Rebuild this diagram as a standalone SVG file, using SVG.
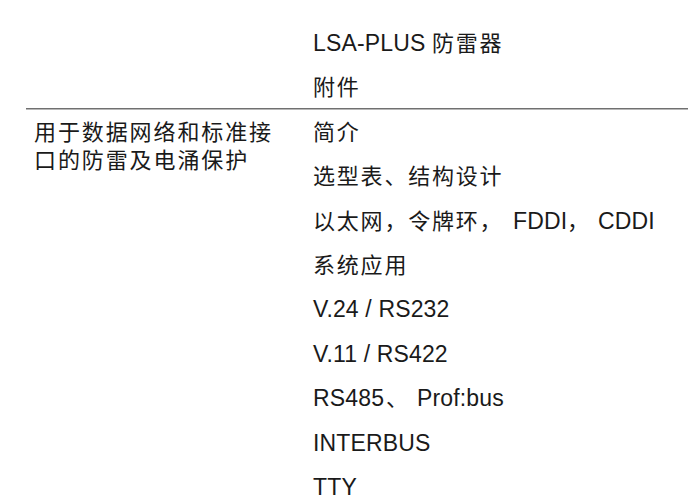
<svg xmlns="http://www.w3.org/2000/svg" width="688" height="504" viewBox="0 0 688 504">
<style>
text{font-family:"Liberation Sans","Noto Sans CJK SC",sans-serif;font-size:22px;fill:#1a1a1a}
.lat{font-size:23px;letter-spacing:0.15px}
.cjk{letter-spacing:1.8px}
.rule{stroke:#707070;stroke-width:1.4}
</style>
<rect width="688" height="504" fill="#ffffff"/>
<g id="separator">
<line class="rule" x1="26" y1="108.7" x2="688" y2="108.7"/>
</g>
<g id="section-title">
<text class="cjk" x="34" y="140" style="letter-spacing:1.9px">用于数据网络和标准接</text>
<text class="cjk" x="34" y="167.5" style="letter-spacing:1.9px">口的防雷及电涌保护</text>
</g>
<g id="row-lsa"><text x="313" y="51"><tspan class="lat">LSA-PLUS</tspan><tspan class="cjk" x="432">防雷器</tspan></text></g>
<g id="row-accessories"><text class="cjk" x="313" y="95.4">附件</text></g>
<g id="row-intro"><text class="cjk" x="313" y="139.8">简介</text></g>
<g id="row-selection"><text class="cjk" x="313" y="184.2">选型表、结构设计</text></g>
<g id="row-ethernet"><text y="228.6"><tspan class="cjk" x="313">以太网，令牌环，</tspan><tspan class="lat" x="513">FDDI</tspan><tspan class="cjk" x="567">，</tspan><tspan class="lat" x="598">CDDI</tspan></text></g>
<g id="row-system"><text class="cjk" x="313" y="273">系统应用</text></g>
<g id="row-v24"><text class="lat" x="313" y="317.4">V.24 / RS232</text></g>
<g id="row-v11"><text class="lat" x="313" y="361.8">V.11 / RS422</text></g>
<g id="row-rs485"><text y="406.2"><tspan class="lat" x="313">RS485</tspan><tspan class="cjk" x="386">、</tspan><tspan class="lat" x="417">Prof:bus</tspan></text></g>
<g id="row-interbus"><text class="lat" x="313" y="450.6">INTERBUS</text></g>
<g id="row-tty"><text class="lat" x="313" y="495">TTY</text></g>
</svg>
